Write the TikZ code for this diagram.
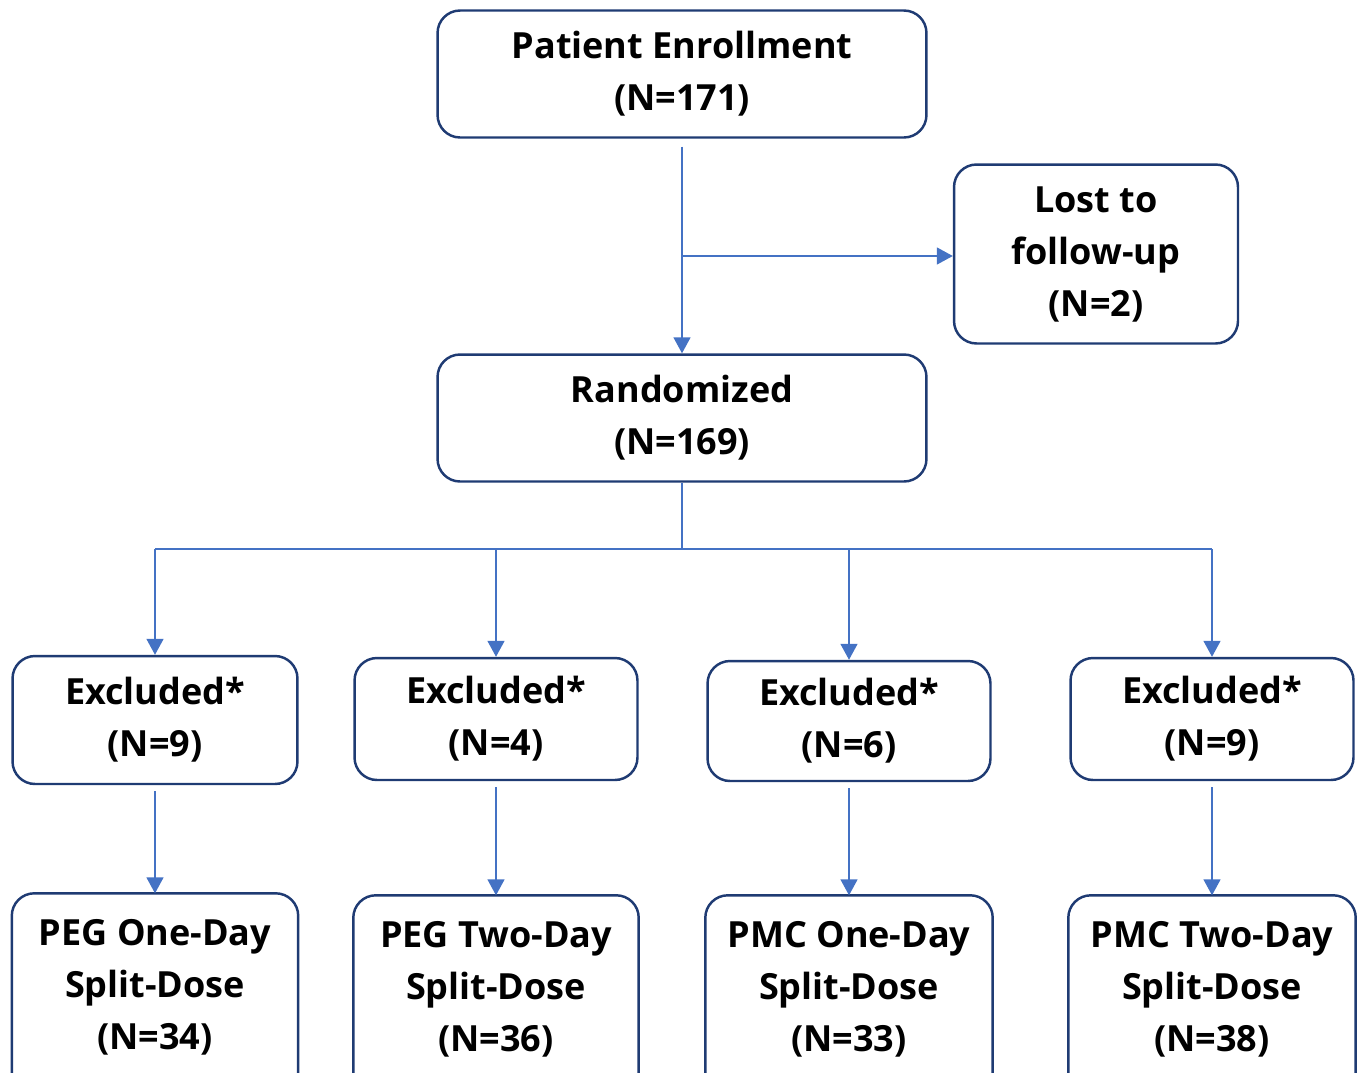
\documentclass[tikz,border=0pt]{standalone}
\usepackage{fontspec}
\setmainfont{Open Sans}
\usetikzlibrary{arrows.meta}

\definecolor{boxblue}{HTML}{1F3B73}
\definecolor{linkblue}{HTML}{4472C4}

\begin{document}
\begin{tikzpicture}[x=0.02cm, y=-0.02cm,
  box/.style={draw=boxblue, line width=1.4pt, rounded corners=0.45cm,
    align=center, inner sep=0pt,
    font=\fontsize{20.5}{29.6}\selectfont\bfseries},
  openbox/.style={box, draw=none},
  frame/.style={draw=boxblue, line width=1.4pt, rounded corners=0.45cm},
  link/.style={draw=linkblue, line width=0.9pt,
    -{Triangle[length=0.32cm, width=0.34cm]}},
  plain/.style={draw=linkblue, line width=0.9pt}]

\useasboundingbox (0,0) rectangle (1361,1072);

% top part
\node[box, minimum width=9.78cm, minimum height=2.54cm] (enrol) at (682,74)
  {Patient Enrollment\\(N=171)};
\node[box, minimum width=5.68cm, minimum height=3.58cm] (lost) at (1096,254)
  {Lost to\\follow-up\\(N=2)};
\node[box, minimum width=9.78cm, minimum height=2.54cm] (rand) at (682,418)
  {Randomized\\(N=169)};

\draw[link, shorten <=0.16cm] (enrol) -- (rand);
\coordinate (split) at (682,256);
\draw[link] (split) -- (lost.west |- split);

% excluded
\node[box, minimum width=5.7cm, minimum height=2.56cm] (ex1) at (155,720)
  {Excluded*\\(N=9)};
\node[box, minimum width=5.66cm, minimum height=2.44cm] (ex2) at (496,719)
  {Excluded*\\(N=4)};
\node[box, minimum width=5.66cm, minimum height=2.4cm] (ex3) at (849,721)
  {Excluded*\\(N=6)};
\node[box, minimum width=5.66cm, minimum height=2.44cm] (ex4) at (1212,719)
  {Excluded*\\(N=9)};

\coordinate (fork) at (682,549);
\draw[plain] (rand) -- (fork);
\draw[plain] (fork -| ex1) -- (fork -| ex4);
\draw[link] (fork -| ex1) -- (ex1);
\draw[link] (fork -| ex2) -- (ex2);
\draw[link] (fork -| ex3) -- (ex3);
\draw[link] (fork -| ex4) -- (ex4);

% arms (open at the bottom edge)
\node[openbox, minimum width=5.68cm, minimum height=3.7cm] (arm1) at (155,987)
  {PEG One-Day\\Split-Dose\\(N=34)};
\node[openbox, minimum width=5.66cm, minimum height=3.7cm] (arm2) at (496,989)
  {PEG Two-Day\\Split-Dose\\(N=36)};
\node[openbox, minimum width=5.7cm, minimum height=3.7cm] (arm3) at (849,989)
  {PMC One-Day\\Split-Dose\\(N=33)};
\node[openbox, minimum width=5.7cm, minimum height=3.7cm] (arm4) at (1212,989)
  {PMC Two-Day\\Split-Dose\\(N=38)};

\draw[frame] ([yshift=-1cm]arm1.south west) rectangle (arm1.north east);
\draw[frame] ([yshift=-1cm]arm2.south west) rectangle (arm2.north east);
\draw[frame] ([yshift=-1cm]arm3.south west) rectangle (arm3.north east);
\draw[frame] ([yshift=-1cm]arm4.south west) rectangle (arm4.north east);

\draw[link, shorten <=0.12cm] (ex1) -- (arm1);
\draw[link, shorten <=0.12cm] (ex2) -- (arm2);
\draw[link, shorten <=0.12cm] (ex3) -- (arm3);
\draw[link, shorten <=0.12cm] (ex4) -- (arm4);

\end{tikzpicture}
\end{document}
